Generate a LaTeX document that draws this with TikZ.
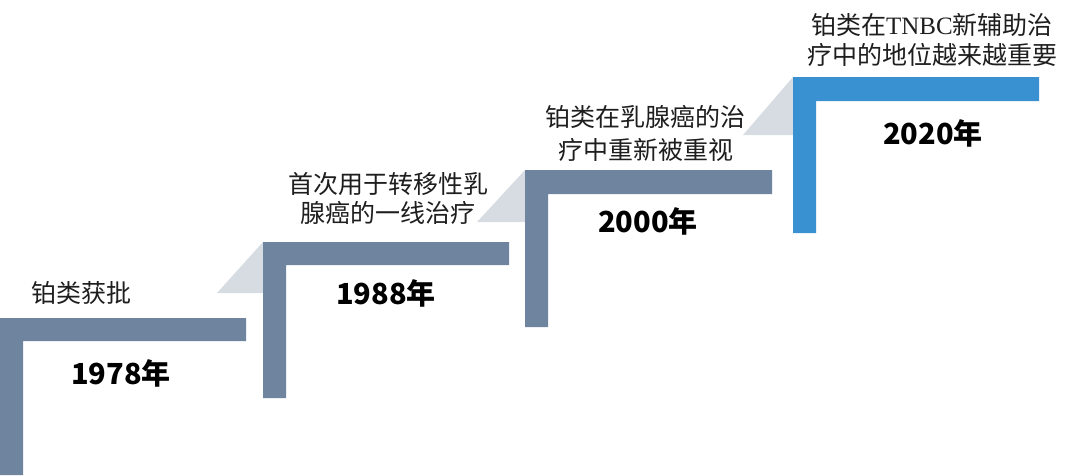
\documentclass[tikz,border=0pt]{standalone}
\usepackage{fontspec}
\newfontfamily\cjk{Noto Sans CJK SC}
\newfontfamily\lserif{Liberation Serif}
\definecolor{steel}{HTML}{6F849E}
\definecolor{stepblue}{HTML}{3A91D1}
\definecolor{shade}{HTML}{D7DCE3}
\definecolor{txt}{HTML}{1E1E1E}
\tikzset{
  bar/.style={fill=steel, draw=none},
  barblue/.style={fill=stepblue, draw=none},
  ramp/.style={fill=shade, draw=none},
  label/.style={inner sep=0pt, align=center, text=txt, font=\cjk\fontsize{25}{29}\selectfont},
  year/.style={inner sep=0pt, text=black, font=\cjk\bfseries\fontsize{29}{34}\selectfont},
}
\begin{document}
\begin{tikzpicture}[x=1pt,y=-1pt]
\useasboundingbox (0,0) rectangle (1080,475);
% ramps
\fill[ramp] (217,293) -- (263,242) -- (263,293) -- cycle;
\fill[ramp] (477,222) -- (525,170) -- (525,222) -- cycle;
\fill[ramp] (743,135) -- (793,77) -- (793,135) -- cycle;
% step 1
\fill[bar] (0,318) -- (246,318) -- (246,341) -- (23,341) -- (23,475) -- (0,475) -- cycle;
% step 2
\fill[bar] (263,242) -- (509,242) -- (509,265) -- (286,265) -- (286,398) -- (263,398) -- cycle;
% step 3
\fill[bar] (525,170) -- (772,170) -- (772,194) -- (548,194) -- (548,327) -- (525,327) -- cycle;
% step 4
\fill[barblue] (793,77) -- (1039,77) -- (1039,101) -- (816,101) -- (816,233) -- (793,233) -- cycle;
% labels
\node[label] (l1) at (81,293) {铂类获批};
\node[label, font=\cjk\fontsize{25}{29}\selectfont] (l2) at (388,198.5) {首次用于转移性乳\\腺癌的一线治疗};
\node[label, font=\cjk\fontsize{25}{33.5}\selectfont] (l3) at (645.5,133.5) {铂类在乳腺癌的治\\疗中重新被重视};
\node[label, font=\cjk\fontsize{25}{30}\selectfont] (l4) at (932,40) {铂类在{\lserif TNBC}新辅助治\\疗中的地位越来越重要};
% years
\node[year] (y1) at (121,373) {1978年};
\node[year] (y2) at (386,293) {1988年};
\node[year] (y3) at (648,221) {2000年};
\node[year] (y4) at (933,133) {2020年};
\end{tikzpicture}
\end{document}
